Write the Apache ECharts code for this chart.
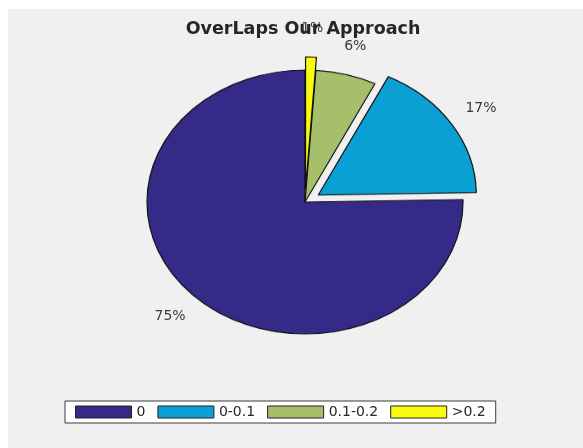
<!DOCTYPE html>
<html>
<head>
<meta charset="utf-8">
<script src="https://cdn.jsdelivr.net/npm/echarts@6/dist/echarts.min.js"></script>
<style>
  html, body { margin: 0; padding: 0; width: 583px; height: 448px; overflow: hidden; background: #ffffff; }
  #bg { position: absolute; left: 8px; top: 9px; right: 0; bottom: 0; background: #f0f0f0; }
  #pie { position: absolute; left: 0; top: 0; width: 583px; height: 448px; transform: scaleY(0.835); transform-origin: 305px 202px; }
  #main { position: absolute; left: 0; top: 0; width: 583px; height: 448px; }
</style>
</head>
<body>
<div id="bg"></div>
<div id="pie"></div>
<div id="main"></div>
<script>
// ---- data ----
const titleText = 'OverLaps Our Approach';
const categories = ['0', '0-0.1', '0.1-0.2', '>0.2'];
const shares = [75.3, 17.4, 6.2, 1.1];
const exploded = [false, true, false, true];
const colors = ['#352a87', '#0ba0d3', '#a5bf6b', '#f9fb0e'];

// ---- layout constants ----
const CX = 305, CY = 202, R = 158, K = 0.835;

const pieData = categories.map((c, i) => ({
  name: c, value: shares[i], selected: exploded[i],
  itemStyle: { color: colors[i] }
}));

const pieChart = echarts.init(document.getElementById('pie'), null, { renderer: 'canvas' });
pieChart.setOption({
  animation: false,
  backgroundColor: 'transparent',
  series: [{
    type: 'pie',
    silent: true,
    center: [CX, CY],
    radius: R,
    startAngle: 90,
    clockwise: false,
    selectedMode: 'multiple',
    selectedOffset: R * 0.1,
    avoidLabelOverlap: false,
    label: { show: false },
    labelLine: { show: false },
    itemStyle: { borderColor: '#111111', borderWidth: 1.2 },
    emphasis: { disabled: true },
    data: pieData
  }]
});

function labelSeries(forExploded, inner, outer) {
  return {
    type: 'pie',
    silent: true,
    center: [CX, CY],
    radius: [inner, outer],
    startAngle: 90,
    clockwise: false,
    avoidLabelOverlap: false,
    percentPrecision: 3,
    itemStyle: { color: 'rgba(0,0,0,0)', borderWidth: 0 },
    emphasis: { disabled: true },
    labelLine: { show: false },
    label: {
      position: 'inside',
      formatter: function (p) { return Math.round(p.percent) + '%'; },
      fontFamily: 'DejaVu Sans',
      fontSize: 14,
      color: '#3a3a3a'
    },
    labelLayout: function (p) {
      const x = p.labelRect.x + p.labelRect.width / 2;
      const y = p.labelRect.y + p.labelRect.height / 2;
      return { x: x, y: CY + (y - CY) * K, align: 'center', verticalAlign: 'middle' };
    },
    data: categories.map((c, i) => ({
      name: c, value: shares[i],
      label: { show: exploded[i] === forExploded }
    }))
  };
}

const chart = echarts.init(document.getElementById('main'), null, { renderer: 'canvas' });
chart.setOption({
  animation: false,
  backgroundColor: 'transparent',
  title: {
    text: titleText,
    left: 303,
    textAlign: 'center',
    top: 20,
    padding: 0,
    textStyle: { fontFamily: 'DejaVu Sans', fontWeight: 'bold', fontSize: 17.5, lineHeight: 19, color: '#262626' }
  },
  legend: {
    data: categories.map((c, i) => ({
      name: c,
      itemStyle: { color: colors[i], opacity: 1, borderColor: '#222222', borderWidth: 1 }
    })),
    left: 65,
    top: 401,
    orient: 'horizontal',
    icon: 'rect',
    itemWidth: 56,
    itemHeight: 12,
    itemGap: 12,
    padding: [4, 10],
    backgroundColor: '#ffffff',
    borderColor: '#3a3a3a',
    borderWidth: 1,
    borderRadius: 0,
    selectedMode: false,
    textStyle: { fontFamily: 'DejaVu Sans', fontSize: 14, color: '#262626' }
  },
  series: [
    labelSeries(false, R * 1.1, R * 1.3),
    labelSeries(true, R * 1.2, R * 1.4)
  ]
});
</script>
</body>
</html>
